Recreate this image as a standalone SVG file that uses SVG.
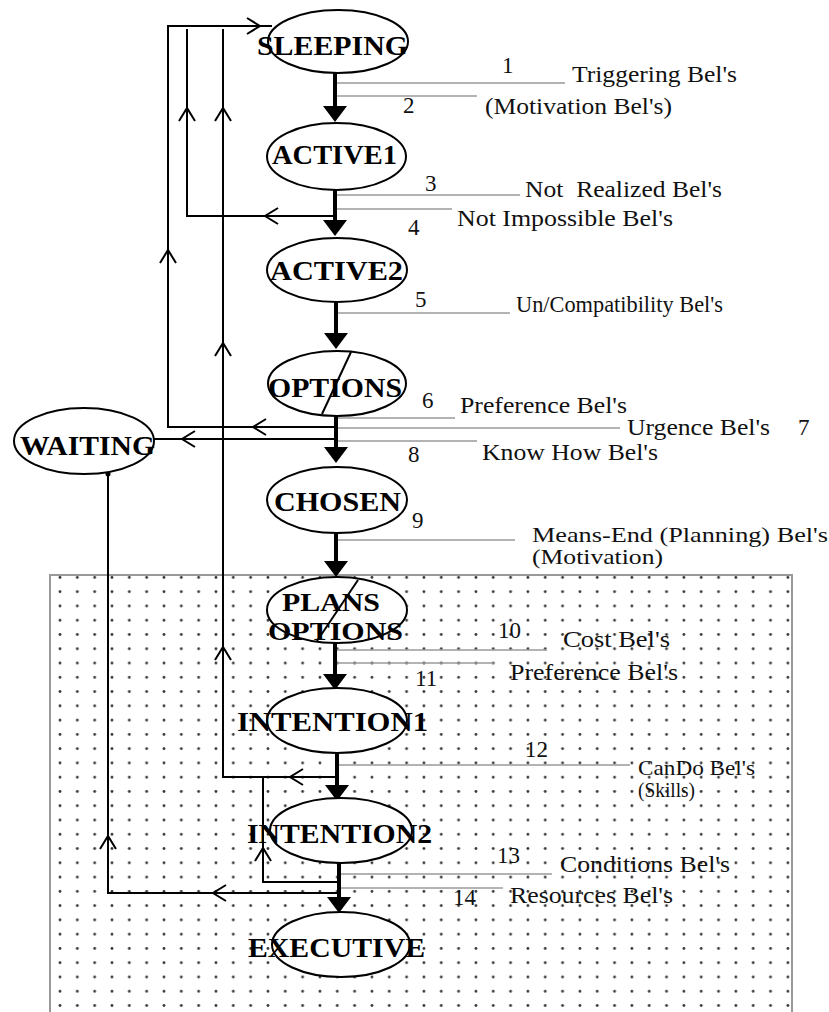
<svg xmlns="http://www.w3.org/2000/svg" width="829" height="1012" viewBox="0 0 829 1012">
<style>
.nd ellipse{fill:#fff;stroke:#000;stroke-width:2}
.nd line{stroke:#000;stroke-width:2}
.nt{font-family:"Liberation Serif",serif;font-weight:bold;font-size:28px;fill:#000}
.nt2{font-family:"Liberation Serif",serif;font-weight:bold;font-size:25px;fill:#000}
.lb{font-family:"Liberation Serif",serif;font-size:23px;fill:#111}
.lb2{font-family:"Liberation Serif",serif;font-size:21px;fill:#111}
.gl{stroke:#9a9a9a;stroke-width:1.5}
.cn{stroke:#000;stroke-width:2;fill:none}
.mn{stroke:#000;stroke-width:4}
.ch{stroke:#000;stroke-width:2;fill:none}
.tr{fill:#000}
</style>
<defs>
<pattern id="dots" patternUnits="userSpaceOnUse" x="51.335" y="584.565" width="17.33" height="14.27">
<circle cx="8.665" cy="7.135" r="1.4" fill="#333"/>
</pattern>
<path id="chev" d="M-13,-8 L0,0 L-13,8"/>
<path id="tri" d="M-12,-16 L12,-16 L0,0 Z"/>
</defs>
<rect x="50" y="575" width="742" height="460" fill="url(#dots)" stroke="#999" stroke-width="2"/>
<g id="gray-lines">
<line class="gl" x1="337" y1="83" x2="565" y2="83"/>
<line class="gl" x1="337" y1="96" x2="477" y2="96"/>
<line class="gl" x1="337" y1="195" x2="520" y2="195"/>
<line class="gl" x1="337" y1="209" x2="452" y2="209"/>
<line class="gl" x1="337" y1="313" x2="510" y2="313"/>
<line class="gl" x1="337" y1="418" x2="455" y2="418"/>
<line class="gl" x1="337" y1="428" x2="620" y2="428"/>
<line class="gl" x1="337" y1="441" x2="477" y2="441"/>
<line class="gl" x1="337" y1="540" x2="515" y2="540"/>
<line class="gl" x1="337" y1="650" x2="547" y2="650"/>
<line class="gl" x1="337" y1="663" x2="495" y2="663"/>
<line class="gl" x1="337" y1="765" x2="630" y2="765"/>
<line class="gl" x1="339" y1="874" x2="552" y2="874"/>
<line class="gl" x1="339" y1="888" x2="503" y2="888"/>
</g>
<g id="connectors">
<polyline class="cn" points="335,427 168,427 168,26 272,26"/>
<polyline class="cn" points="335,216 187,216 187,29"/>
<polyline class="cn" points="337,777 223,777 223,29"/>
<polyline class="cn" points="339,882 263,882 263,777"/>
<polyline class="cn" points="339,893 108,893 108,474"/>
<line class="cn" x1="335" y1="439" x2="154" y2="439"/>
<circle cx="108" cy="474" r="2.5" fill="#000"/>
<use href="#chev" class="ch" transform="translate(260,26)"/>
<use href="#chev" class="ch" transform="translate(187,108) rotate(-90)"/>
<use href="#chev" class="ch" transform="translate(223,108) rotate(-90)"/>
<use href="#chev" class="ch" transform="translate(265,216) rotate(180)"/>
<use href="#chev" class="ch" transform="translate(168,250) rotate(-90)"/>
<use href="#chev" class="ch" transform="translate(223,343) rotate(-90)"/>
<use href="#chev" class="ch" transform="translate(253,427) rotate(180)"/>
<use href="#chev" class="ch" transform="translate(182,439) rotate(180)"/>
<use href="#chev" class="ch" transform="translate(223,647) rotate(-90)"/>
<use href="#chev" class="ch" transform="translate(290,777) rotate(180)"/>
<use href="#chev" class="ch" transform="translate(263,848) rotate(-90)"/>
<use href="#chev" class="ch" transform="translate(213,893) rotate(180)"/>
<use href="#chev" class="ch" transform="translate(108,836) rotate(-90)"/>
<line class="mn" x1="335" y1="73" x2="335" y2="108"/>
<use href="#tri" class="tr" transform="translate(335,122)"/>
<line class="mn" x1="335" y1="190" x2="335" y2="222"/>
<use href="#tri" class="tr" transform="translate(335,236)"/>
<line class="mn" x1="336" y1="302" x2="336" y2="335"/>
<use href="#tri" class="tr" transform="translate(336,349)"/>
<line class="mn" x1="336" y1="416" x2="336" y2="449"/>
<use href="#tri" class="tr" transform="translate(336,463)"/>
<line class="mn" x1="336" y1="533" x2="336" y2="563"/>
<use href="#tri" class="tr" transform="translate(336,577)"/>
<line class="mn" x1="335" y1="643" x2="335" y2="676"/>
<use href="#tri" class="tr" transform="translate(335,690)"/>
<line class="mn" x1="337" y1="753" x2="337" y2="787"/>
<use href="#tri" class="tr" transform="translate(337,801)"/>
<line class="mn" x1="339" y1="863" x2="339" y2="899"/>
<use href="#tri" class="tr" transform="translate(339,913)"/>
</g>
<g id="sleeping" class="nd"><ellipse cx="338" cy="41.5" rx="70" ry="31.5"/><text class="nt" x="257" y="55" textLength="151" lengthAdjust="spacingAndGlyphs">SLEEPING</text></g>
<g id="active1" class="nd"><ellipse cx="336.5" cy="156.5" rx="69.5" ry="33.5"/><text class="nt" x="272" y="164" textLength="125" lengthAdjust="spacingAndGlyphs">ACTIVE1</text></g>
<g id="active2" class="nd"><ellipse cx="337" cy="270" rx="70" ry="32"/><text class="nt" x="270" y="280" textLength="133" lengthAdjust="spacingAndGlyphs">ACTIVE2</text></g>
<g id="options" class="nd"><ellipse cx="337" cy="383.5" rx="69" ry="32.5"/><line x1="351" y1="352" x2="322" y2="414"/><text class="nt" x="268" y="397" textLength="134" lengthAdjust="spacingAndGlyphs">OPTIONS</text></g>
<g id="waiting" class="nd"><ellipse cx="84" cy="441" rx="70" ry="33"/><text class="nt" x="20" y="455" textLength="135" lengthAdjust="spacingAndGlyphs">WAITING</text></g>
<g id="chosen" class="nd"><ellipse cx="337" cy="500" rx="70" ry="33"/><text class="nt" x="274" y="511" textLength="127" lengthAdjust="spacingAndGlyphs">CHOSEN</text></g>
<g id="plans-options" class="nd"><ellipse cx="337" cy="610" rx="70" ry="33"/><line x1="358" y1="580" x2="317" y2="641"/><text class="nt2" x="282" y="611" textLength="98" lengthAdjust="spacingAndGlyphs">PLANS</text><text class="nt2" x="268" y="640" textLength="135" lengthAdjust="spacingAndGlyphs">OPTIONS</text></g>
<g id="intention1" class="nd"><ellipse cx="337" cy="720.5" rx="70" ry="32.5"/><text class="nt" x="237" y="731" textLength="191" lengthAdjust="spacingAndGlyphs">INTENTION1</text></g>
<g id="intention2" class="nd"><ellipse cx="341" cy="830.5" rx="71" ry="32.5"/><text class="nt" x="247" y="843" textLength="185" lengthAdjust="spacingAndGlyphs">INTENTION2</text></g>
<g id="executive" class="nd"><ellipse cx="341" cy="944.5" rx="69" ry="32.5"/><text class="nt" x="248" y="957" textLength="177" lengthAdjust="spacingAndGlyphs">EXECUTIVE</text></g>
<g id="labels">
<text class="lb" x="502" y="73">1</text>
<text class="lb" x="572" y="82" textLength="165" lengthAdjust="spacingAndGlyphs">Triggering Bel's</text>
<text class="lb" x="403" y="113">2</text>
<text class="lb" x="485" y="114" textLength="187" lengthAdjust="spacingAndGlyphs">(Motivation Bel's)</text>
<text class="lb" x="425" y="191">3</text>
<text class="lb" x="525" y="197" xml:space="preserve" style="white-space:pre" textLength="197" lengthAdjust="spacingAndGlyphs">Not  Realized Bel's</text>
<text class="lb" x="408" y="235">4</text>
<text class="lb" x="457" y="226" textLength="216" lengthAdjust="spacingAndGlyphs">Not Impossible Bel's</text>
<text class="lb" x="415" y="307">5</text>
<text class="lb" x="516" y="312" textLength="207" lengthAdjust="spacingAndGlyphs">Un/Compatibility Bel's</text>
<text class="lb" x="422" y="408">6</text>
<text class="lb" x="460" y="413" textLength="167" lengthAdjust="spacingAndGlyphs">Preference Bel's</text>
<text class="lb" x="627" y="435" textLength="143" lengthAdjust="spacingAndGlyphs">Urgence Bel's</text>
<text class="lb" x="798" y="435">7</text>
<text class="lb" x="408" y="462">8</text>
<text class="lb" x="482" y="460" textLength="176" lengthAdjust="spacingAndGlyphs">Know How Bel's</text>
<text class="lb" x="412" y="528">9</text>
<text class="lb2" x="532" y="542" textLength="296" lengthAdjust="spacingAndGlyphs">Means-End (Planning) Bel's</text>
<text class="lb2" x="532" y="564" textLength="131" lengthAdjust="spacingAndGlyphs">(Motivation)</text>
<text class="lb" x="498" y="638">10</text>
<text class="lb" x="563" y="647" textLength="107" lengthAdjust="spacingAndGlyphs">Cost Bel's</text>
<text class="lb" x="415" y="686">11</text>
<text class="lb" x="510" y="680" textLength="168" lengthAdjust="spacingAndGlyphs">Preference Bel's</text>
<text class="lb" x="525" y="757">12</text>
<text class="lb2" x="638" y="775" textLength="117" lengthAdjust="spacingAndGlyphs">CanDo Bel's</text>
<text class="lb2" x="638" y="797" textLength="57" lengthAdjust="spacingAndGlyphs">(Skills)</text>
<text class="lb" x="497" y="863">13</text>
<text class="lb" x="560" y="872" textLength="170" lengthAdjust="spacingAndGlyphs">Conditions Bel's</text>
<text class="lb" x="453" y="905">14</text>
<text class="lb" x="510" y="903" textLength="163" lengthAdjust="spacingAndGlyphs">Resources Bel's</text>
</g>
</svg>
